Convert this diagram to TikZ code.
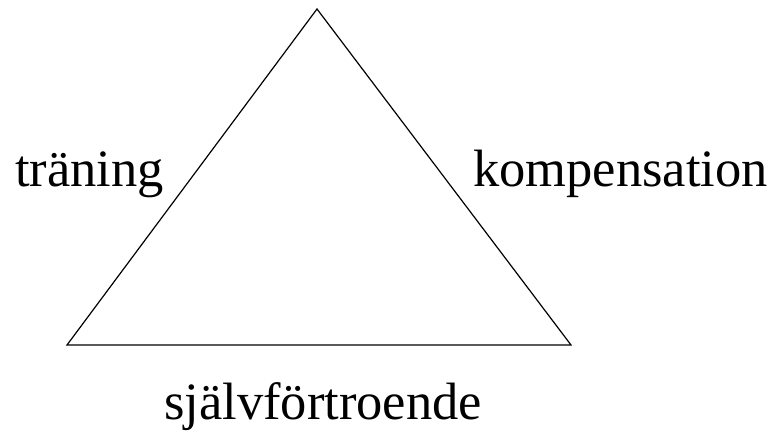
\documentclass[tikz,border=0pt]{standalone}
\usepackage{fontspec}
\setmainfont{Liberation Serif}
\usepackage{tikz}

\begin{document}
\begin{tikzpicture}[x=1pt,y=1pt,
  lbl/.style={inner sep=0pt,font=\fontsize{52.5}{60}\selectfont}]
  \useasboundingbox (0,0) rectangle (778,443);
  \coordinate (top) at (317,434);
  \coordinate (bl) at (67,98);
  \coordinate (br) at (571,98);
  \draw[line width=1.2pt] (top) -- (br) -- (bl) -- cycle;
  \node[lbl,anchor=base west] (traning) at (15,256) {träning};
  \node[lbl,anchor=base west] (komp) at (473,256) {kompensation};
  \node[lbl,anchor=base] (sjalv) at (323,23) {självförtroende};
\end{tikzpicture}
\end{document}
